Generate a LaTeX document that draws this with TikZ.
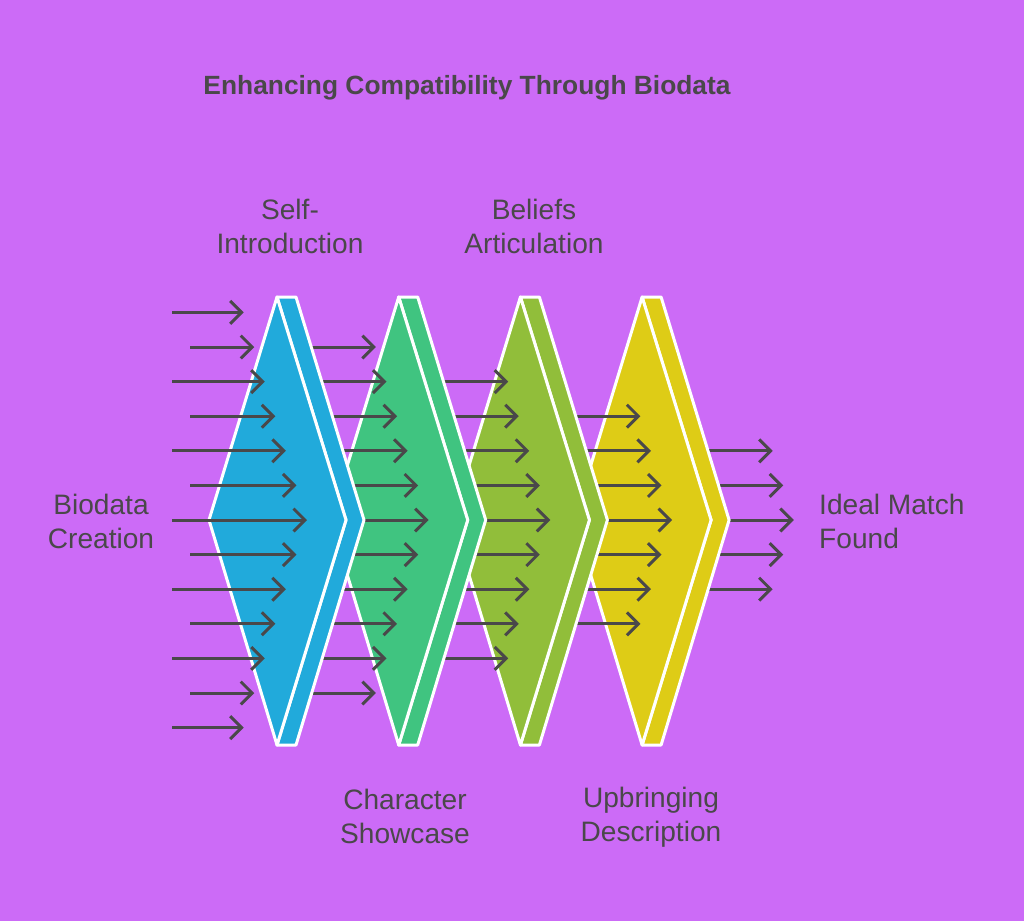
\documentclass[tikz,border=0pt]{standalone}
\usepackage{fontspec}
\setmainfont{Liberation Sans}
\usetikzlibrary{arrows.meta}

\definecolor{bgpurple}{RGB}{204,107,247}
\definecolor{stageblue}{RGB}{33,170,219}
\definecolor{stagegreen}{RGB}{64,196,128}
\definecolor{stageolive}{RGB}{145,190,58}
\definecolor{stageyellow}{RGB}{222,204,22}
\definecolor{inkgray}{RGB}{74,72,74}

\tikzset{
  flowarrow/.style={draw=inkgray,line width=1.7pt,-{Straight Barb[length=6.5pt,width=13pt]}},
  stageline/.style={draw=white,line width=1.7pt,line join=round},
  steptext/.style={text=inkgray,align=center,font=\fontsize{16}{19.3}\selectfont},
}

% one filter: strip behind, rhombus in front
\newcommand{\StageFilter}[2]{%
  \draw[stageline,fill=#2] (#1,297) -- (#1+19,297) -- (#1+87,520) -- (#1+19,745)
    -- (#1,745) -- (#1+69,520) -- cycle;
  \draw[stageline,fill=#2] (#1,297) -- (#1-68,520) -- (#1,745) -- (#1+69,520) -- cycle;
}

% arrows of set #1, #2 on each side of the middle one
\newcommand{\FlowArrows}[2]{%
  \foreach \j in {-#2,...,#2}{
    \pgfmathsetmacro{\ya}{520+34.6*\j}
    \pgfmathsetmacro{\xb}{277+121.7*#1+30-10.55*abs(\j)}
    \ifnum#1=0
      \pgfmathsetmacro{\xa}{mod(abs(\j),2)==1 ? 190 : 172}
    \else
      \pgfmathsetmacro{\xa}{277+121.7*(#1-1)+10}
    \fi
    \draw[flowarrow] (\xa,\ya) -- (\xb,\ya);
  }
}

\begin{document}
\begin{tikzpicture}[x=0.02cm,y=-0.02cm]
    \fill[bgpurple] (0,0) rectangle (1024,921);
    \useasboundingbox (0,0) rectangle (1024,921);

    \node[text=inkgray,font=\bfseries\fontsize{15}{18}\selectfont] (title) at (467,88)
      {Enhancing Compatibility Through Biodata};

    \newcommand{\BlueX}{277}
    \newcommand{\GreenX}{398.7}
    \newcommand{\OliveX}{520.4}
    \newcommand{\YellowX}{642.1}

    \FlowArrows{4}{2}
    \StageFilter{\YellowX}{stageyellow}
    \FlowArrows{3}{3}
    \StageFilter{\OliveX}{stageolive}
    \FlowArrows{2}{4}
    \StageFilter{\GreenX}{stagegreen}
    \FlowArrows{1}{5}
    \StageFilter{\BlueX}{stageblue}
    \FlowArrows{0}{6}

    \node[steptext] (biodata) at (101,521) {Biodata\\Creation};
    \node[steptext] (selfintro) at (290,226) {Self-\\Introduction};
    \node[steptext] (character) at (405,816) {Character\\Showcase};
    \node[steptext] (beliefs) at (534,226) {Beliefs\\Articulation};
    \node[steptext] (upbringing) at (651,817) {Upbringing\\Description};
    \node[steptext,align=left,anchor=west] (idealmatch) at (813,521) {Ideal Match\\Found};
\end{tikzpicture}
\end{document}
